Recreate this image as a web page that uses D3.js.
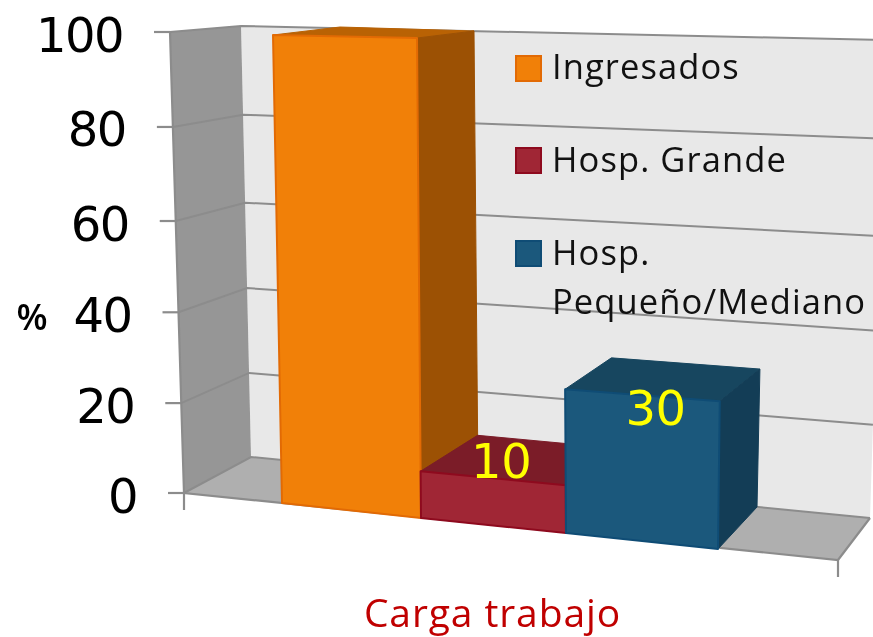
<!DOCTYPE html>
<html>
<head>
<meta charset="utf-8">
<script src="https://cdn.jsdelivr.net/npm/d3@7/dist/d3.min.js"></script>
<style>
html,body{margin:0;padding:0;background:#fff;overflow:hidden}
svg{display:block;filter:blur(0.45px)}
</style>
</head>
<body>
<svg id="chart" width="873" height="637"></svg>
<script>
// DATA
const seriesNames = ["Ingresados", "Hosp. Grande", "Hosp. Pequeño/Mediano"];
const seriesValues = [100, 10, 30];
const valueLabels = [null, "10", "30"];
const yTicks = [0, 20, 40, 60, 80, 100];
const axisUnit = "%";
const categoryTitle = "Carga trabajo";

const seriesFill = ["#f18008", "#a02635", "#1b587c"];
const seriesStroke = ["#e26a04", "#8e0a1e", "#0f4c75"];
const seriesTop = ["#b96204", "#7b1c28", "#17465f"];
const seriesSide = ["#9c5104", "#6c1822", "#133d56"];

// PROJECTION: hand-fitted perspective built of d3 scales
const catStops = [-0.7, 0, 1, 2, 3, 3.75];
const sx = r => d3.scaleLinear().domain(catStops).range(r);
const xFront0 = sx([184, 282, 421, 566, 718, 838]);
const yFront0 = sx([493, 503, 518, 533, 549, 560]);
const xFront100 = sx([170, 273, 417, 563, 724, 854]);
const yFront100 = sx([32, 35, 38, 43, 46, 55]);
const xBack0 = sx([251, 348, 478, 612, 757, 870]);
const yBack0 = sx([457, 467, 479, 492.6, 507, 518]);
const xBack100 = sx([241, 340, 474, 610, 767, 885]);
const yBack100 = sx([26, 27, 31, 33.5, 37, 40]);
const vFrac = d3.scaleLinear().domain([0, 20, 40, 60, 80, 100]).range([0, 0.195, 0.392, 0.59, 0.794, 1]);

function P(c, z, v) {
  const t = vFrac(v);
  const xf = xFront0(c) + (xFront100(c) - xFront0(c)) * t;
  const yf = yFront0(c) + (yFront100(c) - yFront0(c)) * t;
  const xb = xBack0(c) + (xBack100(c) - xBack0(c)) * t;
  const yb = yBack0(c) + (yBack100(c) - yBack0(c)) * t;
  return [xf + (xb - xf) * z, yf + (yb - yf) * z];
}
const poly = pts => pts.map(p => p.join(",")).join(" ");
const line = d3.line();
const cMin = catStops[0], cMax = catStops[catStops.length - 1];

const svg = d3.select("#chart");
const gridColor = "#8c8c8c";

// Walls and floor
svg.append("polygon").attr("points", poly([P(cMin,1,100), P(cMax,1,100), P(cMax,1,0), P(cMin,1,0)])).attr("fill", "#e8e8e8");
svg.append("polygon").attr("points", poly([P(cMin,0,100), P(cMin,1,100), P(cMin,1,0), P(cMin,0,0)])).attr("fill", "#969696");
svg.append("polygon").attr("points", poly([P(cMin,0,0), P(cMin,1,0), P(cMax,1,0), P(cMax,0,0)])).attr("fill", "#afafaf");

// Gridlines, on the back wall and the side wall
svg.append("g").selectAll("path").data(yTicks).join("path")
  .attr("d", v => line([P(cMin,0,v), P(cMin,1,v), P(cMax,1,v)]))
  .attr("fill", "none").attr("stroke", gridColor).attr("stroke-width", 2);

// Axis frame
svg.append("path").attr("d", line([P(cMin,0,100), P(cMin,0,0), P(cMax,0,0), P(cMax,1,0)]))
  .attr("fill", "none").attr("stroke", gridColor).attr("stroke-width", 2.2);

// Tick marks
svg.append("g").selectAll("line").data(yTicks).join("line")
  .attr("x1", v => P(cMin,0,v)[0] - 16).attr("x2", v => P(cMin,0,v)[0])
  .attr("y1", v => P(cMin,0,v)[1]).attr("y2", v => P(cMin,0,v)[1])
  .attr("stroke", gridColor).attr("stroke-width", 2.2);
svg.append("g").selectAll("line").data([cMin, cMax]).join("line")
  .attr("x1", c => P(c,0,0)[0]).attr("x2", c => P(c,0,0)[0])
  .attr("y1", c => P(c,0,0)[1]).attr("y2", c => P(c,0,0)[1] + 17)
  .attr("stroke", gridColor).attr("stroke-width", 2.2);

// Tick labels
svg.append("g").selectAll("text").data(yTicks).join("text")
  .attr("x", v => P(cMin,0,v)[0] - 47)
  .attr("y", v => P(cMin,0,v)[1] + 19.5)
  .attr("text-anchor", "end")
  .attr("font-family", "'DejaVu Sans'").attr("font-size", 48).attr("letter-spacing", -1.5).attr("fill", "#000")
  .text(v => v);
svg.append("text").attr("x", 32).attr("y", 330).attr("text-anchor", "middle")
  .attr("font-family", "'Open Sans'").attr("font-size", 36).attr("font-weight", 600).attr("fill", "#000")
  .text(axisUnit);

// Bars, each drawn from its value through the projection
const bars = svg.append("g").selectAll("g").data(seriesValues).join("g");
bars.append("polygon")
  .attr("points", (v,i) => poly([P(i,0,v), P(i,1,v), P(i+1,1,v), P(i+1,0,v)]))
  .attr("fill", (v,i) => seriesTop[i]).attr("stroke", (v,i) => seriesTop[i]).attr("stroke-width", 1);
bars.append("polygon")
  .attr("points", (v,i) => poly([P(i+1,0,v), P(i+1,1,v), P(i+1,1,0), P(i+1,0,0)]))
  .attr("fill", (v,i) => seriesSide[i]).attr("stroke", (v,i) => seriesSide[i]).attr("stroke-width", 1);
bars.append("polygon")
  .attr("points", (v,i) => poly([P(i,0,v), P(i+1,0,v), P(i+1,0,0), P(i,0,0)]))
  .attr("fill", (v,i) => seriesFill[i]).attr("stroke", (v,i) => seriesStroke[i]).attr("stroke-width", 2).attr("stroke-linejoin", "round");

// Value labels
const labelShift = [0, 8, 13];
svg.append("g").selectAll("text").data(seriesValues).join("text")
  .attr("x", (v,i) => P(i+0.5,0,v)[0] + labelShift[i])
  .attr("y", (v,i) => P(i+0.5,0,v)[1] + (i === 1 ? 0 : 30))
  .attr("text-anchor", "middle")
  .attr("font-family", "'DejaVu Sans'").attr("font-size", 48).attr("letter-spacing", -0.5).attr("fill", "#ffff00")
  .text((v,i) => valueLabels[i]);

// Legend
const legendFont = "'Open Sans'";
const legendRows = [
  {i: 0, swatchY: 56, lines: [[seriesNames[0], 79]]},
  {i: 1, swatchY: 148, lines: [["Hosp. Grande", 172]]},
  {i: 2, swatchY: 241, lines: [["Hosp.", 265], ["Pequeño/Mediano", 314]]}
];
const lg = svg.append("g").selectAll("g").data(legendRows).join("g");
lg.append("rect").attr("x", 516).attr("y", d => d.swatchY).attr("width", 25).attr("height", 25)
  .attr("fill", d => seriesFill[d.i]).attr("stroke", d => seriesStroke[d.i]).attr("stroke-width", 2);
lg.selectAll("text").data(d => d.lines).join("text")
  .attr("x", 552).attr("y", d => d[1])
  .attr("font-family", legendFont).attr("font-size", 34.5).attr("letter-spacing", 1.1).attr("fill", "#111")
  .text(d => d[0]);

// Category title
svg.append("text").attr("x", 492.5).attr("y", 627).attr("text-anchor", "middle")
  .attr("font-family", legendFont).attr("font-size", 39).attr("letter-spacing", 0.9).attr("fill", "#c00000")
  .text(categoryTitle);
</script>
</body>
</html>
